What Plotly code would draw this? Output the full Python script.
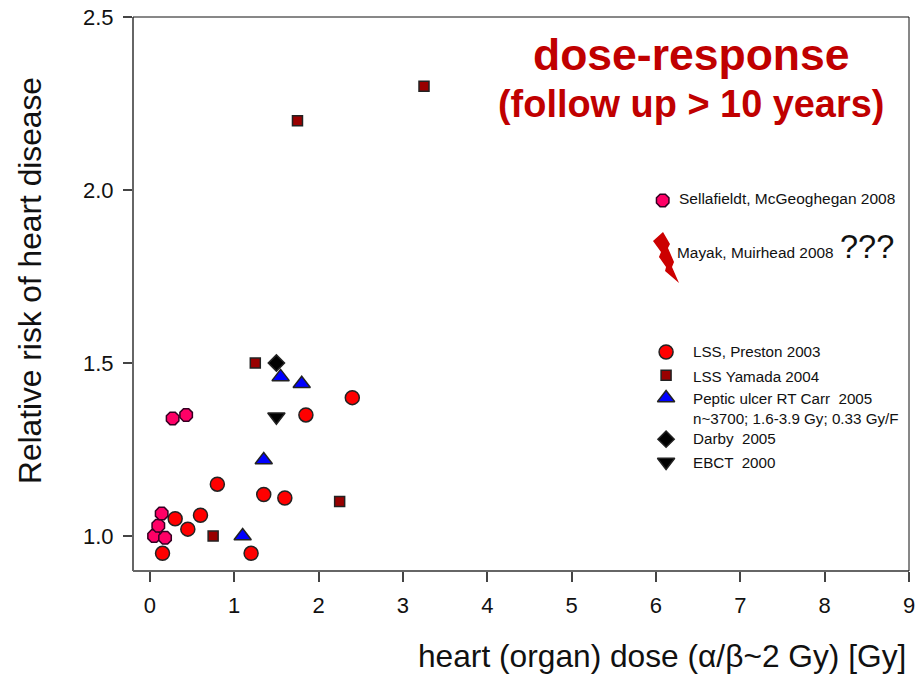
import plotly.graph_objects as go

preston_x = [0.15, 0.3, 0.45, 0.6, 0.8, 1.2, 1.35, 1.6, 1.85, 2.4]
preston_y = [0.95, 1.05, 1.02, 1.06, 1.15, 0.95, 1.12, 1.11, 1.35, 1.40]
yamada_x = [0.75, 1.25, 1.75, 2.25, 3.25]
yamada_y = [1.0, 1.5, 2.2, 1.1, 2.3]
carr_x = [1.1, 1.35, 1.55, 1.8]
carr_y = [1.0, 1.22, 1.46, 1.44]
darby_x = [1.5]
darby_y = [1.5]
ebct_x = [1.5]
ebct_y = [1.345]
sella_x = [0.05, 0.1, 0.14, 0.18, 0.27, 0.43]
sella_y = [1.0, 1.03, 1.065, 0.995, 1.34, 1.35]

key_labels = ["LSS, Preston 2003", "LSS Yamada 2004", "Peptic ulcer RT Carr  2005<br>n~3700; 1.6-3.9 Gy; 0.33 Gy/F",
              "Darby  2005", "EBCT  2000"]
x_ticks = [0, 1, 2, 3, 4, 5, 6, 7, 8, 9]
y_ticks = [1.0, 1.5, 2.0, 2.5]

W, H = 916, 674
L, R, T, B = 133, 909, 17, 571
FONT = "Liberation Sans"

def px(x):
    return (x - L) / (R - L)
def py(y):
    return (B - y) / (B - T)

def series(xs, ys, sym, size, color, lw=1.5, line="#222222"):
    return go.Scatter(x=xs, y=ys, mode="markers", showlegend=False, cliponaxis=False,
                      marker=dict(symbol=sym, size=size, color=color, line=dict(color=line, width=lw)))

fig = go.Figure()
fig.add_trace(series(yamada_x + [6.12], yamada_y + [1.465], "square", 10, "#990000"))
fig.add_trace(series(preston_x + [6.12], preston_y + [1.532], "circle", 14, "#ff0000"))
fig.add_trace(series(carr_x + [6.12], carr_y + [1.399], "triangle-up", 15, "#0000ff"))
fig.add_trace(series(darby_x + [6.12], darby_y + [1.28], "diamond", 12.5, "#000000"))
fig.add_trace(series(ebct_x + [6.12], ebct_y + [1.214], "triangle-down", 15, "#000000"))
fig.add_trace(series(sella_x + [6.08], sella_y + [1.97], "octagon", 13.5, "#ff0066", line="#330022"))

bolt = [(663, 232), (653, 241), (661, 252), (659, 257), (666, 267), (665, 271), (679, 283),
        (672, 267), (674, 262), (668, 248), (670, 244)]
fig.add_shape(type="path", xref="paper", yref="paper", fillcolor="#cc0000", line=dict(width=0),
              path="M " + " L ".join(f"{px(a):.4f} {py(b):.4f}" for a, b in bolt) + " Z")

SHIFT = {"left": -2.5, "right": 3, "center": 0}

def text(x, y, s, size, color="#111111", anchor="left", bold=False, angle=0):
    fig.add_annotation(x=px(x), y=py(y), xref="paper", yref="paper", text=f"<b>{s}</b>" if bold else s,
                       showarrow=False, xanchor=anchor, yanchor="middle", align="left", textangle=angle,
                       xshift=SHIFT[anchor], font=dict(family=FONT, size=size, color=color))

text(691, 55, "dose-response", 44.5, "#c00000", "center", True)
text(691, 104, "(follow up &gt; 10 years)", 37.9, "#c00000", "center", True)
text(679, 198, "Sellafieldt, McGeoghegan 2008", 15.5)
text(677, 252, "Mayak, Muirhead 2008", 15.4)
text(840, 247, "???", 32.5)
text(693, 351, key_labels[0], 15.2)
text(693, 376, key_labels[1], 15.2)
text(693, 408, key_labels[2], 15.2)
text(693, 439, key_labels[3], 15.2)
text(693, 462, key_labels[4], 15.2)
text(905, 656, "heart (organ) dose (α/β~2 Gy) [Gy]", 31.7, "#111111", "right")
text(30, 281, "Relative risk of heart disease", 31.7, "#111111", "center", angle=-90)

fig.update_layout(
    width=W, height=H, autosize=False, paper_bgcolor="white", plot_bgcolor="white",
    margin=dict(l=L, r=W - R, t=T, b=H - B), showlegend=False,
    font=dict(family=FONT, color="#111111"),
    xaxis=dict(range=[-0.2, 9], tickmode="array", tickvals=x_ticks, ticks="outside", ticklen=10, tickwidth=1.5,
               tickcolor="#444444", showgrid=False, zeroline=False, showline=False, automargin=False,
               ticklabelstandoff=5, tickfont=dict(size=22, family=FONT)),
    yaxis=dict(range=[0.899, 2.5], tickmode="array", tickvals=y_ticks, ticktext=["1.0", "1.5", "2.0", "2.5"],
               ticks="outside", ticklen=9, tickwidth=1.5, tickcolor="#444444", showgrid=False, zeroline=False,
               showline=False, automargin=False, ticklabelstandoff=5, tickfont=dict(size=22, family=FONT)),
)
fig.add_shape(type="line", xref="paper", yref="paper", x0=0, x1=0, y0=0, y1=1, line=dict(color="#666666", width=2))
fig.add_shape(type="line", xref="paper", yref="paper", x0=0, x1=1, y0=0, y1=0, line=dict(color="#666666", width=2))
fig.add_shape(type="line", xref="paper", yref="paper", x0=0, x1=1, y0=1, y1=1, line=dict(color="#111111", width=1))
fig.add_shape(type="line", xref="paper", yref="paper", x0=1, x1=1, y0=0, y1=1, line=dict(color="#111111", width=1))

# remove the page's default body margin so the figure fills the window exactly
fig.write_html("out.html", post_script="document.body.style.margin='0';", config={"displayModeBar": False})
